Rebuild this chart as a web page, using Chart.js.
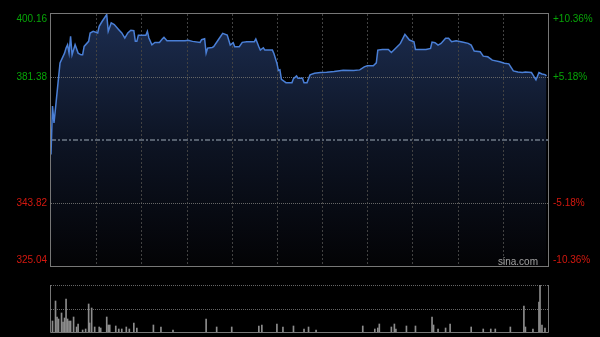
<!DOCTYPE html>
<html>
<head>
<meta charset="utf-8">
<script src="https://cdn.jsdelivr.net/npm/chart.js@4.4.0/dist/chart.umd.min.js"></script>
<style>
  html, body { margin: 0; padding: 0; background: #000; }
  #wrap { position: relative; width: 600px; height: 337px; background: #000; }
  #price { position: absolute; left: 0; top: 0; }
  #vol { position: absolute; left: 0; top: 280px; }
</style>
</head>
<body>
<div id="wrap">
  <canvas id="price" width="600" height="280"></canvas>
  <canvas id="vol" width="600" height="57"></canvas>
</div>
<script>
// previous close and axis ticks
var prevClose = 362.60;
var priceTicks = [325.04, 343.82, 362.60, 381.38, 400.16];
var pctTicks = ["-10.36%", "-5.18%", "", "+5.18%", "+10.36%"];

// minutes since 09:30 (lunch break removed, 330 = 16:00) and price
var minutes = [0, 1, 2, 3, 5, 6, 9, 10, 11, 12, 13, 14, 16, 18, 20, 21, 22, 25, 26, 28,
  31, 32, 34, 37, 38, 40, 42, 45, 47, 49, 51, 53, 55, 56, 57, 58, 63, 64, 65, 67,
  69, 72, 74, 75, 77, 81, 89, 91, 94, 99, 100, 102, 103, 104, 107, 108, 111, 114, 117, 119,
  121, 122, 125, 127, 130, 135, 136, 138, 139, 141, 142, 147, 148, 150, 151, 152, 153, 156, 160, 161,
  163, 164, 167, 168, 170, 172, 175, 179, 183, 188, 194, 201, 205, 208, 210, 214, 216, 217, 220, 224,
  226, 228, 231, 232, 235, 238, 241, 242, 249, 252, 253, 255, 257, 259, 262, 264, 266, 269, 273, 277,
  279, 281, 285, 287, 290, 293, 298, 301, 304, 307, 310, 313, 315, 319, 320, 322, 324, 326, 328, 329];
var prices = [358.3, 372.7, 367.7, 372.1, 381.1, 385.6, 388.5, 390.0, 391.0, 388.5, 393.5, 388.0, 391.0, 388.5, 388.0, 388.0, 390.5, 392.0, 394.5, 395.0,
  394.5, 396.5, 398.0, 400.0, 395.0, 397.5, 397.0, 395.5, 394.5, 393.0, 394.5, 395.3, 395.2, 392.0, 392.0, 393.8, 393.8, 395.0, 393.0, 391.0,
  391.7, 391.7, 392.8, 393.2, 392.2, 392.2, 392.2, 392.3, 392.0, 391.7, 392.5, 392.8, 388.5, 390.0, 390.2, 390.4, 392.4, 394.4, 393.9, 390.9,
  391.6, 390.4, 390.4, 391.7, 391.9, 391.9, 392.7, 390.4, 389.4, 390.1, 389.4, 389.4, 388.4, 385.5, 383.3, 383.5, 380.7, 379.7, 379.7, 380.9,
  381.7, 381.0, 381.0, 379.7, 379.7, 382.0, 382.5, 382.7, 382.8, 383.0, 383.4, 383.3, 383.5, 384.4, 384.7, 384.7, 385.6, 389.4, 389.6, 389.6,
  388.7, 389.6, 390.9, 391.4, 394.1, 392.4, 391.9, 389.6, 389.6, 389.9, 391.8, 391.6, 390.9, 391.4, 392.9, 392.9, 391.9, 392.2, 391.8, 391.4,
  390.9, 389.1, 388.9, 387.6, 387.4, 386.4, 385.9, 385.5, 385.3, 383.2, 382.9, 382.7, 382.9, 382.7, 382.0, 380.5, 382.7, 382.3, 382.1, 381.7];

// volume bars (minute, volume in 10k shares)
var volMinutes = [1, 3, 4, 5, 7, 8, 9, 10, 11, 12, 13, 15, 17, 18, 21, 23, 25, 25.6, 27, 29,
  32, 33, 37, 38, 39, 43, 45, 47, 50, 52, 55, 57, 68, 73, 81, 103, 110, 120, 138, 140,
  150, 154, 161, 168, 171, 176, 207, 215, 217, 218, 226, 228, 229, 236, 242, 253, 254, 257, 262, 265,
  279, 287, 292, 295, 305, 314, 315, 320, 324, 324.7, 326, 328];
var volumes = [110, 310, 150, 130, 190, 100, 140, 330, 130, 110, 110, 150, 50, 80, 20, 30, 280, 90, 240, 50,
  50, 40, 150, 70, 70, 60, 30, 30, 50, 30, 90, 40, 70, 50, 20, 130, 50, 50, 60, 70,
  80, 50, 60, 30, 50, 20, 60, 30, 40, 80, 50, 80, 30, 60, 60, 150, 70, 30, 40, 80,
  50, 30, 30, 30, 50, 260, 50, 30, 300, 470, 70, 40];

var lineColor = "#4a7fd6";
var gridColor = "#424242";
var borderColor = "#777";
var upColor = "#07a507";
var downColor = "#d4180f";

var gridPlugin = {
  id: "grid",
  beforeDatasetsDraw: function(chart) {
    var ctx = chart.ctx, a = chart.chartArea;
    var xs = chart.scales.x, ys = chart.scales.y;
    ctx.save();
    // vertical dotted lines every half hour
    ctx.strokeStyle = gridColor;
    ctx.lineWidth = 1;
    ctx.setLineDash([2, 2]);
    for (var m = 30; m < 330; m += 30) {
      var x = Math.round(xs.getPixelForValue(m)) + 0.5;
      ctx.beginPath(); ctx.moveTo(x, a.top); ctx.lineTo(x, a.bottom); ctx.stroke();
    }
    // horizontal lines
    ctx.strokeStyle = "#666";
    ctx.setLineDash([1, 1]);
    [priceTicks[1], priceTicks[3]].forEach(function(v) {
      var y = Math.round(ys.getPixelForValue(v)) + 0.5;
      ctx.beginPath(); ctx.moveTo(a.left, y); ctx.lineTo(a.right, y); ctx.stroke();
    });
    ctx.strokeStyle = "#56606e";
    ctx.lineWidth = 2;
    ctx.setLineDash([5, 2, 2, 2]);
    var y0 = Math.round(ys.getPixelForValue(prevClose));
    ctx.beginPath(); ctx.moveTo(a.left, y0); ctx.lineTo(a.right, y0); ctx.stroke();
    ctx.restore();
  },
  afterDraw: function(chart) {
    var ctx = chart.ctx, a = chart.chartArea, ys = chart.scales.y;
    ctx.save();
    ctx.strokeStyle = borderColor;
    ctx.lineWidth = 1;
    ctx.strokeRect(a.left - 0.5, a.top - 0.5, a.right - a.left + 1, a.bottom - a.top + 1);
    ctx.font = "10px 'Liberation Sans', Arial, sans-serif";
    ctx.textBaseline = "middle";
    for (var i = 0; i < priceTicks.length; i++) {
      var v = priceTicks[i];
      if (v === prevClose) continue;
      var y = ys.getPixelForValue(v);
      y = Math.min(Math.max(y, a.top + 5), a.bottom - 6);
      ctx.fillStyle = v > prevClose ? upColor : downColor;
      ctx.textAlign = "right";
      ctx.fillText(v.toFixed(2), a.left - 4, y);
      ctx.textAlign = "left";
      ctx.fillText(pctTicks[i], a.right + 5, y);
    }
    ctx.fillStyle = "#a0a0a0";
    ctx.textAlign = "right";
    ctx.textBaseline = "alphabetic";
    ctx.fillText("sina.com", a.right - 10, a.bottom - 1);
    ctx.restore();
  }
};

var pts = [];
for (var i in minutes) {
  pts.push({ x: minutes[i], y: prices[i] });
}

new Chart(document.getElementById("price"), {
  type: "line",
  data: {
    datasets: [{
      data: pts,
      borderColor: lineColor,
      borderWidth: 1.5,
      pointRadius: 0,
      tension: 0,
      fill: "start",
      backgroundColor: function(c) {
        var a = c.chart.chartArea;
        if (!a) return "rgba(30,50,90,0.6)";
        var g = c.chart.ctx.createLinearGradient(0, a.top, 0, a.bottom);
        g.addColorStop(0, "rgba(28,45,80,1)");
        g.addColorStop(0.5, "rgba(13,20,36,1)");
        g.addColorStop(1, "rgba(3,3,5,1)");
        return g;
      }
    }]
  },
  options: {
    responsive: false,
    animation: false,
    layout: { padding: { left: 51, right: 52, top: 14, bottom: 14 } },
    plugins: {
      legend: { display: false },
      tooltip: { enabled: false },
      filler: { drawTime: "beforeDatasetsDraw" }
    },
    scales: {
      x: { type: "linear", min: 0, max: 330, display: false },
      y: { min: priceTicks[0], max: priceTicks[4], display: false }
    }
  },
  plugins: [gridPlugin]
});

var volPts = [];
for (var j in volMinutes) {
  volPts.push({ x: volMinutes[j], y: volumes[j] });
}

var volGrid = {
  id: "volgrid",
  beforeDatasetsDraw: function(chart) {
    var ctx = chart.ctx, a = chart.chartArea;
    ctx.save();
    ctx.strokeStyle = "#666";
    ctx.lineWidth = 1;
    ctx.setLineDash([1, 1]);
    var ymid = Math.round((a.top + a.bottom) / 2) + 0.5;
    [a.top + 0.5, ymid].forEach(function(y) {
      ctx.beginPath(); ctx.moveTo(a.left, y); ctx.lineTo(a.right, y); ctx.stroke();
    });
    ctx.restore();
  },
  afterDraw: function(chart) {
    var ctx = chart.ctx, a = chart.chartArea;
    ctx.save();
    ctx.strokeStyle = borderColor;
    ctx.lineWidth = 1;
    ctx.beginPath();
    ctx.moveTo(a.left - 0.5, a.top);
    ctx.lineTo(a.left - 0.5, a.bottom + 0.5);
    ctx.lineTo(a.right + 0.5, a.bottom + 0.5);
    ctx.lineTo(a.right + 0.5, a.top);
    ctx.stroke();
    ctx.restore();
  }
};

new Chart(document.getElementById("vol"), {
  type: "bar",
  data: {
    datasets: [{
      data: volPts,
      backgroundColor: "#8c8c8c",
      barThickness: 1
    }]
  },
  options: {
    responsive: false,
    animation: false,
    layout: { padding: { left: 51, right: 52, top: 5, bottom: 5 } },
    plugins: { legend: { display: false }, tooltip: { enabled: false } },
    scales: {
      x: { type: "linear", min: 0, max: 330, display: false, offset: false },
      y: { min: 0, max: 470, display: false }
    }
  },
  plugins: [volGrid]
});
</script>
</body>
</html>
